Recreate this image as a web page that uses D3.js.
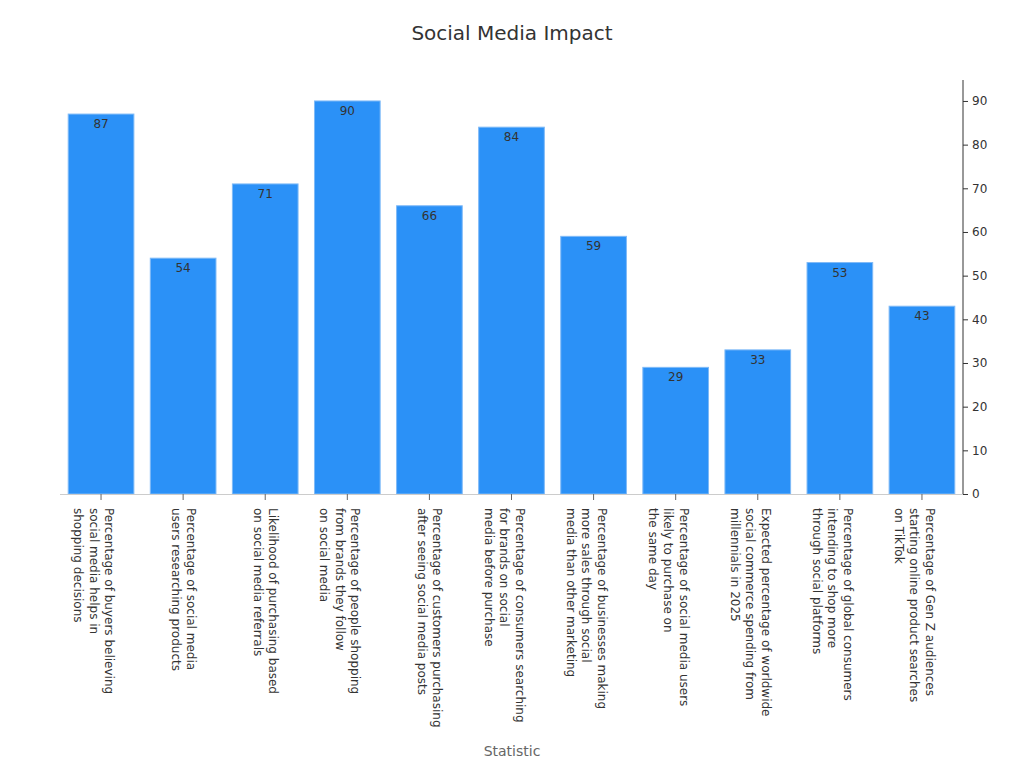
<!DOCTYPE html>
<html><head><meta charset="utf-8">
<script src="https://cdn.jsdelivr.net/npm/d3@7"></script>
<style>body{margin:0;background:#fff;font-family:"DejaVu Sans",sans-serif;}</style>
</head><body><svg id="c" width="1024" height="768"></svg>
<script>
const categories = [
 ["Percentage of buyers believing","social media helps in","shopping decisions"],
 ["Percentage of social media","users researching products"],
 ["Likelihood of purchasing based","on social media referrals"],
 ["Percentage of people shopping","from brands they follow","on social media"],
 ["Percentage of customers purchasing","after seeing social media posts"],
 ["Percentage of consumers searching","for brands on social","media before purchase"],
 ["Percentage of businesses making","more sales through social","media than other marketing"],
 ["Percentage of social media users","likely to purchase on","the same day"],
 ["Expected percentage of worldwide","social commerce spending from","millennials in 2025"],
 ["Percentage of global consumers","intending to shop more","through social platforms"],
 ["Percentage of Gen Z audiences","starting online product searches","on TikTok"]
];
const values = [87,54,71,90,66,84,59,29,33,53,43];
const yTicks = [0,10,20,30,40,50,60,70,80,90];

const svg = d3.select("#c");
const x = d3.scaleBand().domain(d3.range(values.length)).range([60,963]).paddingInner(0.2).paddingOuter(0.1);
const y = d3.scaleLinear().domain([0,94.8]).range([494,80]);

svg.append("text").attr("x",512).attr("y",40).attr("text-anchor","middle")
 .attr("font-size",20).attr("fill","#333").text("Social Media Impact");

svg.selectAll("rect.bar").data(values).join("rect").attr("class","bar")
 .attr("x",(d,i)=>x(i)).attr("width",x.bandwidth())
 .attr("y",d=>y(d)).attr("height",d=>y(0)-y(d))
 .attr("fill","#2b91f7").attr("stroke","#7fbaf7").attr("stroke-width",1);

svg.selectAll("text.val").data(values).join("text").attr("class","val")
 .attr("x",(d,i)=>x(i)+x.bandwidth()/2).attr("y",d=>y(d)+14)
 .attr("text-anchor","middle").attr("font-size",12).attr("fill","#333").text(d=>d);

svg.append("line").attr("x1",60).attr("x2",963).attr("y1",y(0)+0.5).attr("y2",y(0)+0.5).attr("stroke","#ccc");

const xg = svg.append("g");
categories.forEach((lines,i)=>{
  const cx = x(i)+x.bandwidth()/2;
  xg.append("line").attr("x1",cx).attr("x2",cx).attr("y1",494).attr("y2",500).attr("stroke","#666");
  const t = xg.append("text").attr("transform",`translate(${cx},508) rotate(90)`)
    .attr("font-size",12).attr("fill","#333");
  lines.forEach((l,j)=>{
    t.append("tspan").attr("x",0).attr("y",-4 + j*15.5).text(l);
  });
});

const ya = svg.append("g").attr("transform","translate(963,0)")
 .call(d3.axisRight(y).tickValues(yTicks).tickSize(5).tickPadding(4));
ya.select(".domain").attr("stroke","#333").attr("d","M0,80V494");
ya.selectAll(".tick line").attr("stroke","#333");
ya.selectAll(".tick text").attr("font-size",12).attr("fill","#333").attr("font-family","DejaVu Sans");

svg.append("text").attr("x",512).attr("y",756).attr("text-anchor","middle")
 .attr("font-size",14).attr("fill","#666").text("Statistic");
</script></body></html>
